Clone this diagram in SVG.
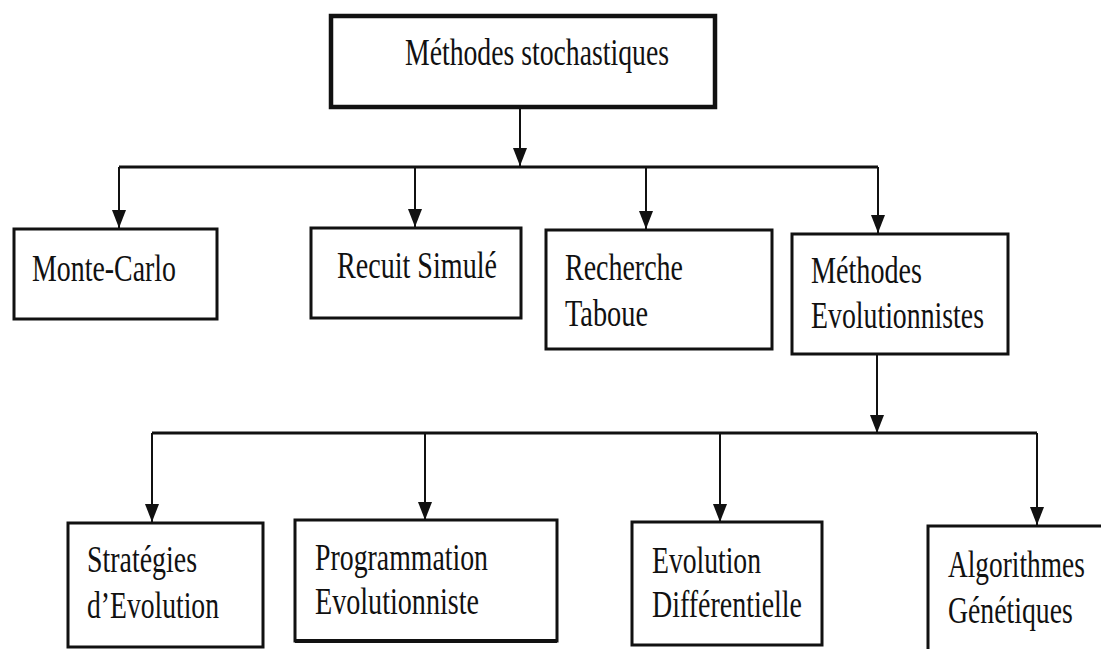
<svg xmlns="http://www.w3.org/2000/svg" width="1101" height="649" viewBox="0 0 1101 649">
<defs>
<style>
.box{fill:#fff;stroke:#111;stroke-width:3}
.top{stroke-width:4.5}
.t{font-family:"Liberation Serif","Times New Roman",serif;font-size:38px;fill:#111}
.c{fill:none;stroke:#111;stroke-width:2}
.bus{fill:none;stroke:#111;stroke-width:3}
</style>
<marker id="ah" markerUnits="userSpaceOnUse" markerWidth="18" markerHeight="14" viewBox="0 0 18 14" refX="18" refY="7" orient="auto">
<path d="M0,0 L18,7 L0,14 z" fill="#111"/>
</marker>
</defs>
<rect width="1101" height="649" fill="#fff"/>
<g id="connectors">
<path class="c" d="M520,107 V166" marker-end="url(#ah)"/>
<path class="bus" d="M119,167 H878"/>
<path class="c" d="M119,167 V228" marker-end="url(#ah)"/>
<path class="c" d="M415,167 V227" marker-end="url(#ah)"/>
<path class="c" d="M646,167 V229" marker-end="url(#ah)"/>
<path class="c" d="M878,167 V233" marker-end="url(#ah)"/>
<path class="c" d="M877,354 V433" marker-end="url(#ah)"/>
<path class="bus" d="M152,433 H1037"/>
<path class="c" d="M152,433 V522" marker-end="url(#ah)"/>
<path class="c" d="M425,433 V520" marker-end="url(#ah)"/>
<path class="c" d="M720,433 V522" marker-end="url(#ah)"/>
<path class="c" d="M1037,433 V525" marker-end="url(#ah)"/>
</g>
<g id="n-root">
<rect class="box top" x="331" y="16" width="384" height="91"/>
<text class="t" x="405" y="65" font-size="33" textLength="264" lengthAdjust="spacingAndGlyphs">Méthodes stochastiques</text>
</g>
<g id="n-montecarlo">
<rect class="box" x="14" y="229" width="203" height="90"/>
<text class="t" x="32" y="281" textLength="144" lengthAdjust="spacingAndGlyphs">Monte-Carlo</text>
</g>
<g id="n-recuit">
<rect class="box" x="311" y="228" width="210" height="90"/>
<text class="t" x="337" y="278" textLength="160" lengthAdjust="spacingAndGlyphs">Recuit Simulé</text>
</g>
<g id="n-tabou">
<rect class="box" x="546" y="230" width="226" height="119"/>
<text class="t" x="565" y="280" textLength="118" lengthAdjust="spacingAndGlyphs">Recherche</text>
<text class="t" x="565" y="326" textLength="83" lengthAdjust="spacingAndGlyphs">Taboue</text>
</g>
<g id="n-evol">
<rect class="box" x="792" y="234" width="216" height="120"/>
<text class="t" x="811" y="283" textLength="111" lengthAdjust="spacingAndGlyphs">Méthodes</text>
<text class="t" x="811" y="328" textLength="173" lengthAdjust="spacingAndGlyphs">Evolutionnistes</text>
</g>
<g id="n-strategies">
<rect class="box" x="68" y="523" width="195" height="124"/>
<text class="t" x="87" y="572" textLength="110" lengthAdjust="spacingAndGlyphs">Stratégies</text>
<text class="t" x="87" y="618" textLength="132" lengthAdjust="spacingAndGlyphs">d’Evolution</text>
</g>
<g id="n-programmation">
<rect class="box" x="295" y="520" width="262" height="121"/>
<path d="M295,641 H557" stroke="#111" stroke-width="4"/>
<text class="t" x="315" y="570" textLength="173" lengthAdjust="spacingAndGlyphs">Programmation</text>
<text class="t" x="315" y="614" textLength="164" lengthAdjust="spacingAndGlyphs">Evolutionniste</text>
</g>
<g id="n-differentielle">
<rect class="box" x="632" y="522" width="190" height="123"/>
<text class="t" x="652" y="573" textLength="109" lengthAdjust="spacingAndGlyphs">Evolution</text>
<text class="t" x="652" y="617" textLength="150" lengthAdjust="spacingAndGlyphs">Différentielle</text>
</g>
<g id="n-genetiques">
<path class="box" d="M1101,526 H928 V649"/>
<text class="t" transform="translate(948,577) scale(0.72,1)" x="0" y="0">Algorithmes</text>
<text class="t" transform="translate(948,623) scale(0.73,1)" x="0" y="0">Génétiques</text>
</g>
</svg>
